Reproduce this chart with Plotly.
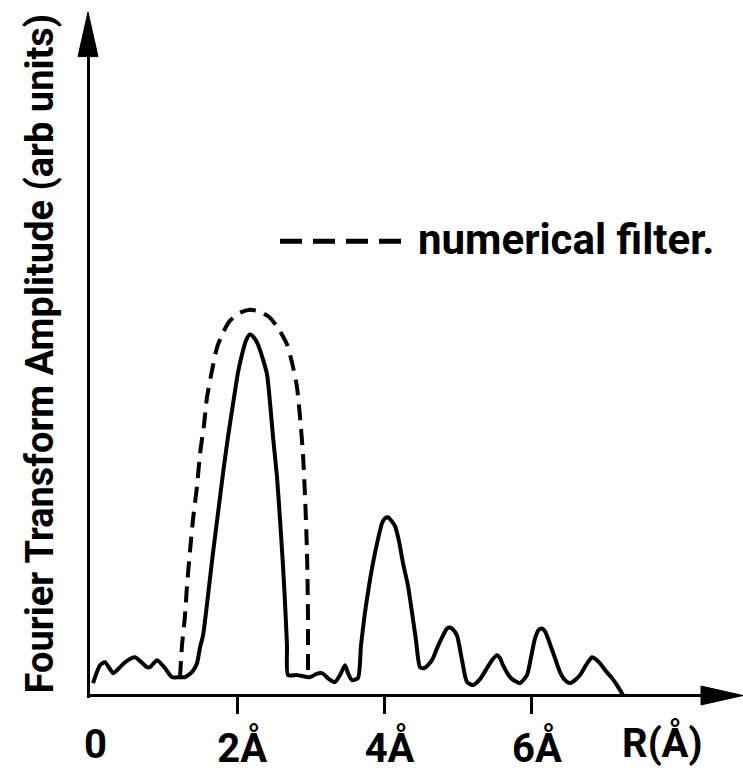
import plotly.graph_objects as go

# ---- data (R in Å, amplitude in arbitrary units) ----
R_solid = [0.041, 0.136, 0.204, 0.312, 0.339, 0.475, 0.611, 0.774, 0.815, 0.910,
           1.018, 1.114, 1.222, 1.290, 1.385, 1.453, 1.494, 1.535, 1.602, 1.670,
           1.738, 1.806, 1.874, 1.942, 2.010, 2.064, 2.118, 2.173, 2.227, 2.281,
           2.349, 2.404, 2.444, 2.485, 2.539, 2.580, 2.621, 2.648, 2.675, 2.689,
           2.811, 2.988, 3.069, 3.150, 3.246, 3.327, 3.395, 3.463, 3.504, 3.558,
           3.639, 3.680, 3.734, 3.789, 3.843, 3.911, 3.965, 4.006, 4.047, 4.087,
           4.142, 4.196, 4.250, 4.318, 4.373, 4.427, 4.481, 4.536, 4.590, 4.658,
           4.712, 4.794, 4.848, 4.889, 4.929, 4.984, 5.052, 5.119, 5.201, 5.296,
           5.391, 5.459, 5.527, 5.568, 5.608, 5.703, 5.771, 5.839, 5.934, 5.989,
           6.043, 6.097, 6.138, 6.179, 6.219, 6.301, 6.382, 6.450, 6.518, 6.586,
           6.654, 6.735, 6.817, 6.871, 6.926, 7.007, 7.089, 7.156, 7.238]
A_solid = [0.171, 0.429, 0.471, 0.314, 0.329, 0.471, 0.543, 0.400, 0.400, 0.500,
           0.386, 0.257, 0.257, 0.257, 0.329, 0.457, 0.686, 0.857, 1.429, 2.043,
           2.614, 3.186, 3.714, 4.186, 4.643, 4.900, 5.100, 5.186, 5.143, 5.043,
           4.829, 4.614, 4.214, 3.714, 3.143, 2.529, 1.857, 1.329, 0.714, 0.286,
           0.286, 0.257, 0.300, 0.314, 0.229, 0.186, 0.286, 0.429, 0.314, 0.214,
           0.243, 0.714, 1.186, 1.571, 1.900, 2.243, 2.471, 2.543, 2.557, 2.514,
           2.429, 2.214, 1.900, 1.571, 1.186, 0.786, 0.400, 0.386, 0.429, 0.529,
           0.671, 0.857, 0.957, 0.971, 0.943, 0.857, 0.500, 0.186, 0.143, 0.229,
           0.386, 0.500, 0.571, 0.529, 0.429, 0.257, 0.200, 0.171, 0.286, 0.543,
           0.814, 0.943, 0.957, 0.914, 0.814, 0.571, 0.329, 0.214, 0.171, 0.214,
           0.286, 0.429, 0.543, 0.514, 0.457, 0.343, 0.243, 0.143, 0.000]

R_filter = [1.222, 1.236, 1.249, 1.290, 1.317, 1.358, 1.399, 1.453, 1.494, 1.548,
            1.589, 1.657, 1.725, 1.806, 1.901, 2.037, 2.173, 2.309, 2.444, 2.567,
            2.675, 2.743, 2.811, 2.852, 2.892, 2.920, 2.947, 2.960, 2.960]
A_filter = [0.257, 0.500, 0.714, 1.143, 1.571, 2.071, 2.529, 3.000, 3.471, 3.886,
            4.286, 4.671, 5.000, 5.214, 5.386, 5.500, 5.543, 5.514, 5.429, 5.257,
            5.043, 4.786, 4.429, 4.000, 3.471, 2.857, 2.043, 1.143, 0.329]

tick_vals = [2, 4, 6]
tick_text = ["2Å", "4Å", "6Å"]
zero_label = "0"
axis_label_x = "R(Å)"
axis_label_y = "Fourier Transform Amplitude (arb units)"
legend_label = "numerical filter."

# ---- layout geometry ----
W, H = 743, 772
L, B = 90, 72
PW, PH = W - L, H - B
PX_PER_A = 73.64


def px(xp):
    return (xp - L) / PW


def py(yp):
    return (PH - yp) / PH


FONT = "Roboto, Liberation Sans, sans-serif"
LABEL_FONT = dict(family=FONT, size=40, color="black", weight=700)

fig = go.Figure()
fig.add_trace(go.Scatter(x=R_solid, y=A_solid, mode="lines",
                         line=dict(color="black", width=4, shape="spline", smoothing=0.6),
                         showlegend=False, name="FT amplitude"))
fig.add_trace(go.Scatter(x=R_filter, y=A_filter, mode="lines",
                         line=dict(color="black", width=4, dash="16px,9px",
                                   shape="spline", smoothing=0.6),
                         showlegend=False, name=legend_label))

shapes = [
    # y axis with arrow
    dict(type="line", xref="paper", yref="paper", x0=px(88.5), x1=px(88.5),
         y0=py(703), y1=py(50), line=dict(color="black", width=3)),
    dict(type="path", xref="paper", yref="paper",
         path=f"M {px(88)},{py(12)} L {px(98)},{py(57)} L {px(78)},{py(57)} Z",
         fillcolor="black", line=dict(color="black", width=1)),
    # x axis with arrow
    dict(type="line", xref="paper", yref="paper", x0=px(87), x1=px(705),
         y0=py(700.5), y1=py(700.5), line=dict(color="black", width=3)),
    dict(type="path", xref="paper", yref="paper",
         path=f"M {px(743)},{py(700.5)} L {px(701)},{py(691)} L {px(701)},{py(710)} Z",
         fillcolor="black", line=dict(color="black", width=1)),
    # legend sample
    dict(type="line", xref="paper", yref="paper", x0=px(280), x1=px(401),
         y0=py(243), y1=py(243), line=dict(color="black", width=5, dash="22px,11px")),
]

annotations = [
    dict(text=zero_label, x=0, xref="x", y=py(750), yref="paper", showarrow=False,
         xanchor="center", yanchor="middle", xshift=5, font=LABEL_FONT),
    dict(text=axis_label_x, x=px(662), xref="paper", y=py(748), yref="paper",
         showarrow=False, xanchor="center", yanchor="middle", font=LABEL_FONT),
    dict(text=legend_label, x=px(416), xref="paper", y=py(241), yref="paper",
         showarrow=False, xanchor="left", yanchor="middle",
         font=dict(family=FONT, size=42, color="black", weight=700)),
    dict(text=axis_label_y, x=px(40), xref="paper", y=py(356), yref="paper",
         showarrow=False, xanchor="center", yanchor="middle", textangle=-90,
         font=dict(family=FONT, size=38, color="black", weight=700)),
]

fig.update_layout(
    width=W, height=H, autosize=False,
    margin=dict(l=L, r=0, t=0, b=B),
    paper_bgcolor="white", plot_bgcolor="white",
    shapes=shapes, annotations=annotations,
    xaxis=dict(range=[0, PW / PX_PER_A], showgrid=False, zeroline=False,
               showline=False, tickmode="array", tickvals=tick_vals,
               ticktext=tick_text, ticks="outside", ticklen=18, tickwidth=2.5,
               tickcolor="black", ticklabelshift=5, tickfont=LABEL_FONT),
    yaxis=dict(range=[0, 10], showgrid=False, zeroline=False, showline=False,
               showticklabels=False, ticks=""),
)

fig.write_html("out.html",
               config={"displayModeBar": False},
               post_script="document.body.style.margin='0';"
                           "document.documentElement.style.overflow='hidden';")
